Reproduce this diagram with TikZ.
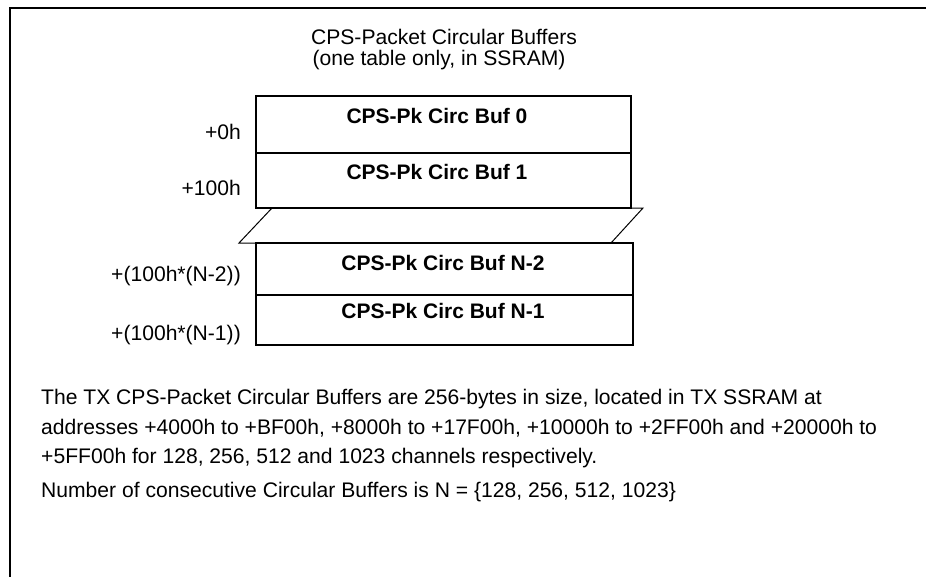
\documentclass[tikz,border=0pt]{standalone}
\usepackage{fontspec}
\setmainfont{Liberation Sans}
\begin{document}
\begin{tikzpicture}[x=1pt,y=-1pt,
  txt/.style={inner sep=0pt, font=\fontsize{21.1}{21.1}\selectfont},
  buftxt/.style={inner sep=0pt, font=\fontsize{21}{21}\selectfont\bfseries, anchor=base},
  lbl/.style={txt, anchor=base east},
  para/.style={txt, anchor=base west},
  ttl/.style={txt, anchor=base},
  boxline/.style={line width=2pt},
  thinline/.style={line width=1pt},
  frameline/.style={line width=2.2pt}]
\useasboundingbox (0,0) rectangle (926,576);
% frame
\draw[frameline] (10,577) -- (10,8) -- (927,8);
% title
\node[ttl] (t1) at (444,44) {CPS-Packet Circular Buffers};
\node[ttl] (t2) at (439,65) {(one table only, in SSRAM)};
% upper buffers
\draw[boxline] (256,96) rectangle (631,208);
\draw[boxline] (256,153) -- (631,153);
\node[buftxt] (b0) at (437,123) {CPS-Pk Circ Buf 0};
\node[buftxt] (b1) at (437,179) {CPS-Pk Circ Buf 1};
% break
\draw[thinline] (631,208) -- (643,208) -- (611,243);
\draw[thinline] (272,208) -- (239,243) -- (256,243);
% lower buffers
\draw[boxline] (256,243) rectangle (633,345);
\draw[boxline] (256,295) -- (633,295);
\node[buftxt] (bn2) at (443,270) {CPS-Pk Circ Buf N-2};
\node[buftxt] (bn1) at (443,318) {CPS-Pk Circ Buf N-1};
% offsets
\node[lbl] (l0) at (241,139) {+0h};
\node[lbl] (l1) at (241,195) {+100h};
\node[lbl] (l2) at (241,281) {+(100h*(N-2))};
\node[lbl] (l3) at (241,340) {+(100h*(N-1))};
% description
\node[para] (p1) at (41,404) {The TX CPS-Packet Circular Buffers are 256-bytes in size, located in TX SSRAM at};
\node[para] (p2) at (41,434) {addresses +4000h to +BF00h, +8000h to +17F00h, +10000h to +2FF00h and +20000h to};
\node[para] (p3) at (41,463) {+5FF00h for 128, 256, 512 and 1023 channels respectively.};
\node[para] (p4) at (41,497) {Number of consecutive Circular Buffers is N = \{128, 256, 512, 1023\}};
\end{tikzpicture}
\end{document}
